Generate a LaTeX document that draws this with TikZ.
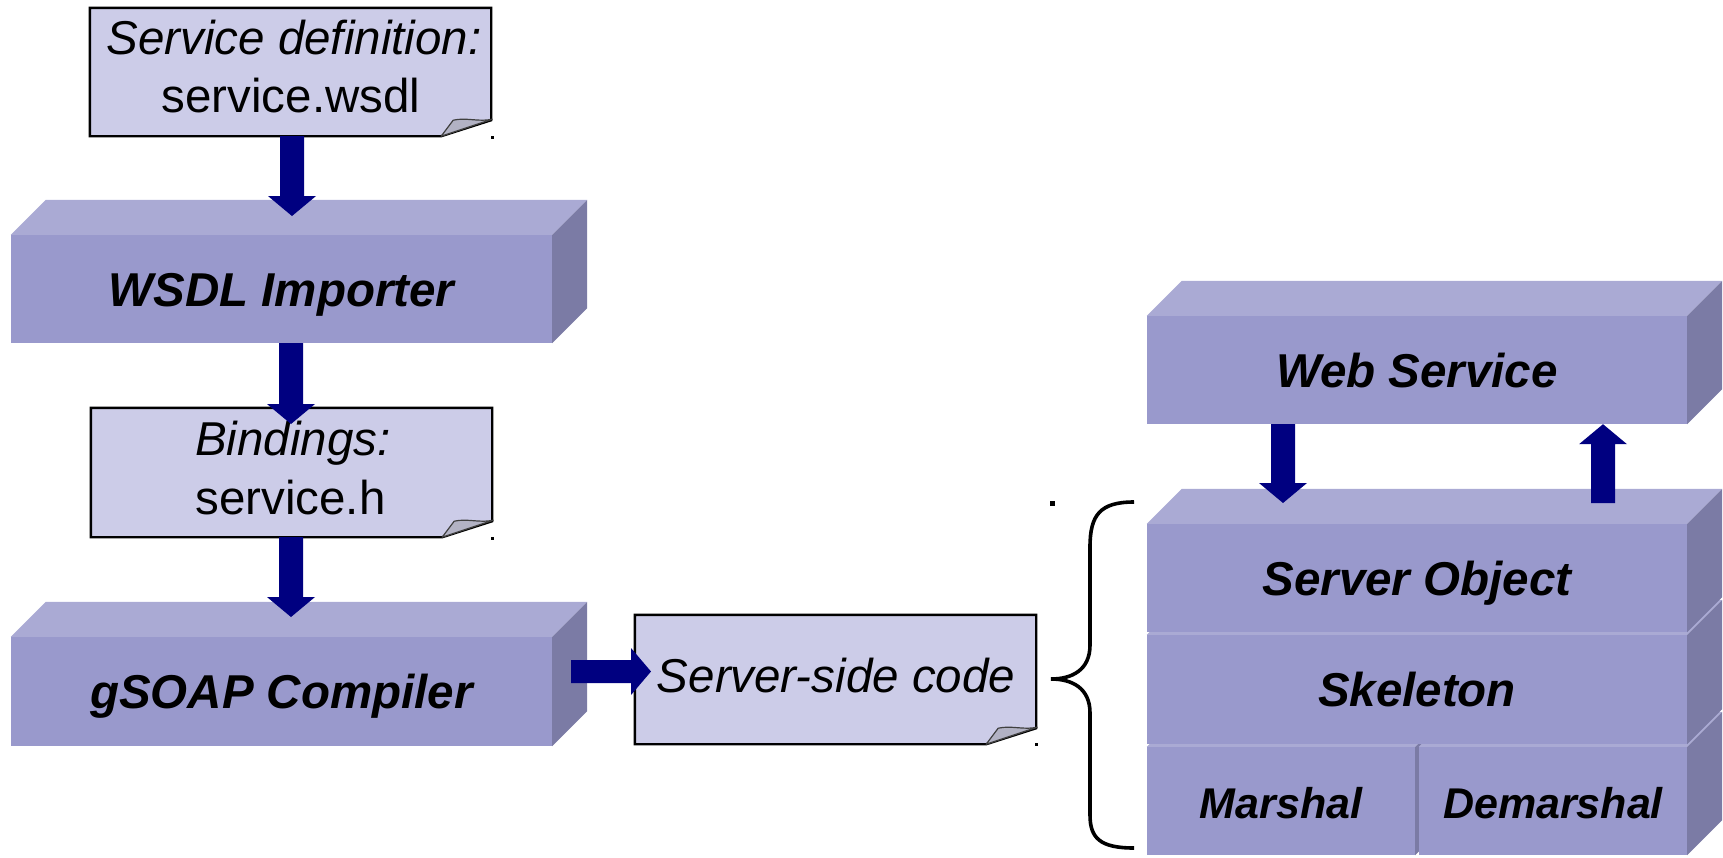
\documentclass[tikz,border=0pt]{standalone}
\usepackage{fontspec}
\setmainfont{Liberation Sans}
\usetikzlibrary{calc}
\definecolor{frontc}{RGB}{153,153,204}
\definecolor{topc}{RGB}{170,170,212}
\definecolor{sidec}{RGB}{123,123,165}
\definecolor{notec}{RGB}{204,204,232}
\definecolor{foldc}{RGB}{178,178,196}
\definecolor{arrc}{RGB}{0,0,128}
\newcommand{\boxsides}[1]{%
  \fill[topc] (#1.north west) -- ++(35,-35) -- ([shift={(35,-35)}]#1.north east) -- (#1.north east) -- cycle;
  \fill[sidec] (#1.north east) -- ([shift={(35,-35)}]#1.north east) -- ([shift={(35,-35)}]#1.south east) -- (#1.south east) -- cycle;}
\newcommand{\noteshape}[1]{%
  \draw[noteline] (#1.north west) -- (#1.north east) -- ($(#1.south east)+(0,-16)$) -- ($(#1.south east)+(-50,0)$) -- (#1.south west) -- cycle;
  \draw[foldshape] ($(#1.south east)+(-50,0)$) -- ($(#1.south east)+(-38,-16)$) .. controls ($(#1.south east)+(-25,-19)$) and ($(#1.south east)+(-12,-14)$) .. ($(#1.south east)+(1,-17)$) -- cycle;}
\newcommand{\blockdown}[2]{\fill[arrc] ($(#1)+(-12,0)$) -- ($(#2)+(-12,-20)$) -- ($(#2)+(-24,-20)$) -- (#2) -- ($(#2)+(24,-20)$) -- ($(#2)+(12,-20)$) -- ($(#1)+(12,0)$) -- cycle;}
\newcommand{\blockup}[2]{\fill[arrc] ($(#1)+(-12,0)$) -- ($(#2)+(-12,20)$) -- ($(#2)+(-24,20)$) -- (#2) -- ($(#2)+(24,20)$) -- ($(#2)+(12,20)$) -- ($(#1)+(12,0)$) -- cycle;}
\newcommand{\blockright}[2]{\fill[arrc] ($(#1)+(0,-11.5)$) -- ($(#2)+(-20,-11.5)$) -- ($(#2)+(-20,-23.5)$) -- (#2) -- ($(#2)+(-20,23.5)$) -- ($(#2)+(-20,11.5)$) -- ($(#1)+(0,11.5)$) -- cycle;}
\begin{document}
\begin{tikzpicture}[x=1pt,y=-1pt,
  front/.style={fill=frontc, inner sep=0pt, text height=34pt, text depth=0pt,
    font=\fontsize{47.5}{58}\selectfont\bfseries\itshape},
  smallfront/.style={front, font=\fontsize{43}{52}\selectfont\bfseries\itshape},
  notebody/.style={inner sep=0pt},
  noteline/.style={fill=notec, draw=black, line width=2.4pt, line join=miter},
  foldshape/.style={fill=foldc, draw=black!75, line width=1.2pt, line join=round},
  notetext/.style={anchor=base, inner sep=0pt, font=\fontsize{47.5}{58}\selectfont},
  bracket/.style={draw=black, line width=3.6pt, line cap=butt},
  speck/.style={fill=black}]
\useasboundingbox (0,0) rectangle (1723,857);

% left column boxes
\node[front, minimum width=541pt, minimum height=108pt] (wsdl) at (281.5,289) {WSDL Importer};
\boxsides{wsdl}
\node[front, minimum width=541pt, minimum height=109pt] (gsoap) at (281.5,691.5) {gSOAP Compiler};
\boxsides{gsoap}

% right stack (bottom first)
\node[smallfront, minimum width=268pt, minimum height=108pt] (marshal) at (1281,801) {Marshal};
\boxsides{marshal}
\node[smallfront, minimum width=268pt, minimum height=108pt] (demarshal) at (1553,801) {Demarshal};
\boxsides{demarshal}
\node[front, minimum width=540pt, minimum height=109pt] (skeleton) at (1417,689.5) {Skeleton};
\boxsides{skeleton}
\node[front, minimum width=540pt, minimum height=108pt] (serverobj) at (1417,578) {Server Object};
\boxsides{serverobj}
\node[front, minimum width=540pt, minimum height=108pt] (websvc) at (1417,370) {Web Service};
\boxsides{websvc}

% notes
\node[notebody, minimum width=401pt, minimum height=128pt] (note1) at (290.5,72) {};
\noteshape{note1}
\node[notetext] (n1a) at (294,54) {\itshape Service definition:};
\node[notetext] (n1b) at (291,112) {service.wsdl};

\node[notebody, minimum width=401pt, minimum height=129pt] (note2) at (291.5,472.5) {};
\noteshape{note2}
\node[notetext] (n2a) at (293,455) {\itshape Bindings:};
\node[notetext] (n2b) at (290.5,514) {service.h};

\node[notebody, minimum width=401pt, minimum height=129pt] (note3) at (835.5,679.5) {};
\noteshape{note3}
\node[notetext] (n3a) at (836,692) {\itshape Server-side code};

% specks
\fill[speck] (490.5,135.5) rectangle ++(3,3);
\fill[speck] (490.5,536.5) rectangle ++(3,3);
\fill[speck] (1034.5,743) rectangle ++(3,3);
\fill[speck] (1049.5,500.5) rectangle ++(5,5);

% arrows
\coordinate (a1t) at (292,216);
\blockdown{note1.south -| a1t}{a1t}
\coordinate (a2t) at (291,424);
\blockdown{wsdl.south -| a2t}{a2t}
\coordinate (a3t) at (291,617);
\blockdown{note2.south -| a3t}{a3t}
\coordinate (a4s) at (571,671.5);
\coordinate (a4t) at (651,671.5);
\blockright{a4s}{a4t}
\coordinate (a5t) at (1283,503);
\blockdown{websvc.south -| a5t}{a5t}
\coordinate (a6s) at (1603,503);
\blockup{a6s}{websvc.south -| a6s}

% brace
\draw[bracket] (1134,502) .. controls (1100,502) and (1090,515) .. (1090,547)
  -- (1090,645) .. controls (1090,670) and (1072,679) .. (1051,679)
  .. controls (1072,679) and (1090,688) .. (1090,713)
  -- (1090,815) .. controls (1090,838) and (1100,848) .. (1134,848);
\end{tikzpicture}
\end{document}
